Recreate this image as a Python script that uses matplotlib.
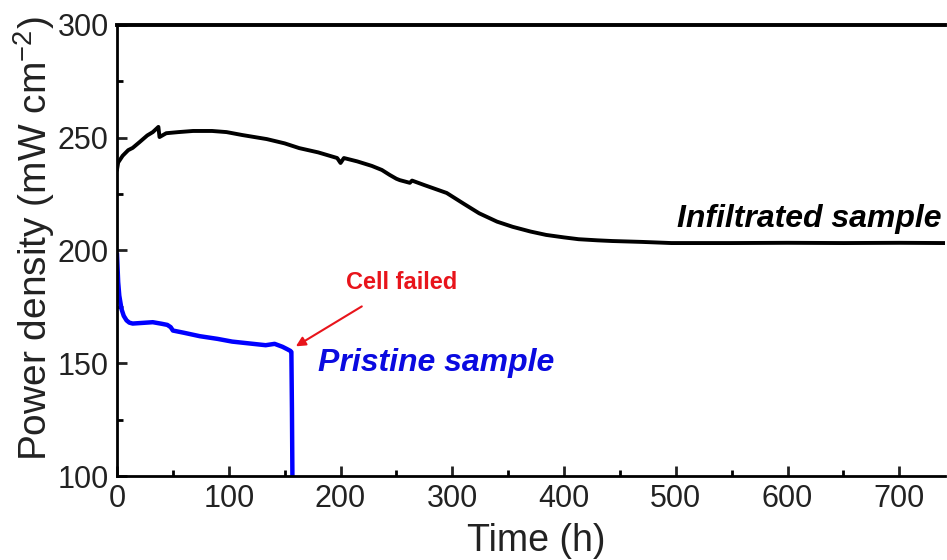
import matplotlib
matplotlib.use("Agg")
import matplotlib.pyplot as plt
from matplotlib.ticker import MultipleLocator

plt.rcParams['font.family'] = ['Liberation Sans', 'DejaVu Sans']
plt.rcParams['mathtext.default'] = 'regular'

# Infiltrated sample
infil_t = [0, 1, 5, 10, 14, 20, 27, 32, 37, 38, 44, 55, 68, 85, 98, 112, 134, 150,
           163, 180, 197, 200, 203, 215, 228, 237, 244, 250, 253, 262, 264, 275, 295,
           310, 324, 340, 354, 370, 384, 400, 413, 430, 443, 470, 496, 550, 600, 650,
           700, 740]
infil_p = [236, 239, 242, 244.5, 245.5, 248, 251, 252.5, 254.8, 250.3, 252, 252.5, 253,
           253, 252.5, 251.2, 249.4, 247.5, 245.4, 243.5, 241, 238.8, 241, 239.5, 237.5,
           235.7, 233.5, 231.8, 231.2, 230, 231, 229, 225.5, 220.8, 216.5, 212.8, 210.5,
           208.4, 206.9, 205.8, 205, 204.5, 204.2, 203.8, 203.3, 203.3, 203.4, 203.3,
           203.4, 203.3]

# Pristine sample
prist_t = [0, 1, 2, 4, 6, 8.5, 11, 14, 20, 32, 40, 45, 48, 50, 60, 74, 90, 103, 118,
           133, 141, 148, 152, 155, 156, 156.5, 157]
prist_p = [198, 186, 180, 174, 171, 169, 168, 167.6, 167.8, 168.2, 167.5, 167, 166,
           164.5, 163.5, 162, 160.8, 159.6, 158.8, 158, 158.6, 157.3, 156.3, 155.5, 155,
           130, 95]

fig = plt.figure(figsize=(9.47, 5.6), dpi=100)
ax = fig.add_axes([0.1236, 0.15, 0.8744, 0.8054])

ax.plot(infil_t, infil_p, color='black', lw=2.8, solid_joinstyle='round')
ax.plot(prist_t, prist_p, color='#0000ff', lw=3.2, solid_joinstyle='round')

ax.set_xlim(0, 741)
ax.set_ylim(100, 300)
ax.xaxis.set_major_locator(MultipleLocator(100))
ax.xaxis.set_minor_locator(MultipleLocator(50))
ax.yaxis.set_major_locator(MultipleLocator(50))
ax.yaxis.set_minor_locator(MultipleLocator(25))
ax.tick_params(which='major', direction='in', length=7, width=2, labelsize=22,
               colors='#222222', pad=6)
ax.tick_params(which='minor', direction='in', length=4, width=2)
ax.tick_params(top=False, right=False, which='both')

ax.spines['right'].set_visible(False)
for s in ['left', 'bottom']:
    ax.spines[s].set_linewidth(2)
ax.spines['top'].set_linewidth(2.8)

ax.set_xlabel('Time (h)', fontsize=27, color='#222222')
ax.xaxis.set_label_coords(0.506, -0.105, transform=ax.transAxes)
ax.xaxis.label.set_va('top')
ax.set_ylabel('Power density (mW cm$^{-2}$)', fontsize=28, color='#222222')
ax.yaxis.set_label_coords(-0.072, 0.525, transform=ax.transAxes)

ax.text(738, 214, 'Infiltrated sample', fontsize=23, fontweight='bold',
        fontstyle='italic', ha='right', va='center', color='black')
ax.text(180, 150, 'Pristine sample', fontsize=23, fontweight='bold',
        fontstyle='italic', ha='left', va='center', color='#0a0ae0')
ax.annotate('Cell failed', xy=(160, 157.5), xytext=(255, 186), fontsize=17,
            fontweight='bold', color='#e8141b', ha='center', va='center',
            arrowprops=dict(arrowstyle='-|>', color='#e8141b', lw=1.5,
                            shrinkA=14, shrinkB=0, mutation_scale=14))

fig.savefig('out.png', dpi=100)
